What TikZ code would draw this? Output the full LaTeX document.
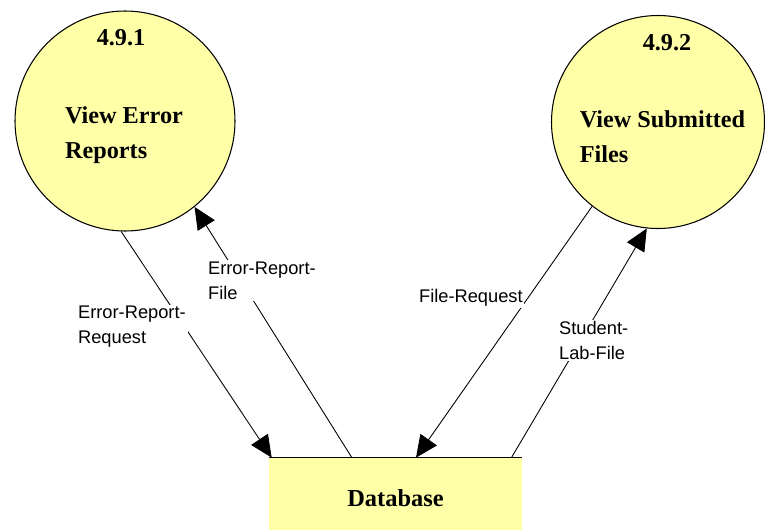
\documentclass[tikz,border=0pt]{standalone}
\usepackage{fontspec}
\setmainfont{Liberation Serif}
\newfontfamily\flowfont{Liberation Sans}
\usepackage{tikz}
\usetikzlibrary{positioning, arrows.meta, calc}
\usepackage{xcolor}
\definecolor{procyellow}{HTML}{FFFFA8}

\begin{document}
\begin{tikzpicture}[
    proc/.style={circle, draw=black, fill=procyellow, line width=0.6pt, inner sep=0pt},
    ptitle/.style={font=\fontsize{13.8}{19.8}\selectfont\bfseries, align=left, inner sep=0pt},
    flow/.style={-{Triangle[length=0.44cm, width=0.4cm]}, black, line width=0.5pt},
    flowlabel/.style={font=\flowfont\fontsize{10.4}{14.2}\selectfont, fill=white, align=left, anchor=west, inner sep=1pt}
]
    \useasboundingbox (0,0) rectangle (15.3,10.58);

    % Processes
    \node[proc, minimum size=4.4cm] (viewerr) at (2.5,8.16) {};
    \node[ptitle] (numerr) at (2.42,9.82) {4.9.1};
    \node[ptitle] (titleerr) at (2.48,7.88) {View Error\\Reports};

    \node[proc, minimum size=4.26cm] (viewsub) at (13.16,8.14) {};
    \node[ptitle] (numsub) at (13.34,9.72) {4.9.2};
    \node[ptitle] (titlesub) at (13.25,7.84) {View Submitted\\Files};

    % Data store
    \node[fill=procyellow, minimum width=5.06cm, minimum height=1.62cm, inner sep=0pt,
        font=\fontsize{13.9}{16}\selectfont\bfseries] (db) at (7.91,0.61) {Database};
    \draw[line width=0.8pt] (db.north west) -- (db.north east);

    % Points on top edge of the store
    \coordinate (dbreq) at ($(db.north west)!0.012!(db.north east)$);
    \coordinate (dbfile) at ($(db.north west)!0.328!(db.north east)$);
    \coordinate (dbfreq) at ($(db.north west)!0.581!(db.north east)$);
    \coordinate (dblab) at ($(db.north west)!0.957!(db.north east)$);

    % Flows
    \draw[flow] (viewerr.-92.6) -- (dbreq);
    \draw[flow] (dbfile) -- (viewerr.-51.8);
    \draw[flow] (viewsub.-128.7) -- (dbfreq);
    \draw[flow] (dblab) -- (viewsub.-96.8);

    % Flow labels
    \node[flowlabel] (lreq) at (1.52,4.04) {Error-Report-\\Request};
    \node[flowlabel] (lfile) at (4.12,4.97) {Error-Report-\\File};
    \node[flowlabel] (lfreq) at (8.34,4.62) {File-Request};
    \node[flowlabel] (llab) at (11.14,3.77) {Student-\\Lab-File};
\end{tikzpicture}
\end{document}
